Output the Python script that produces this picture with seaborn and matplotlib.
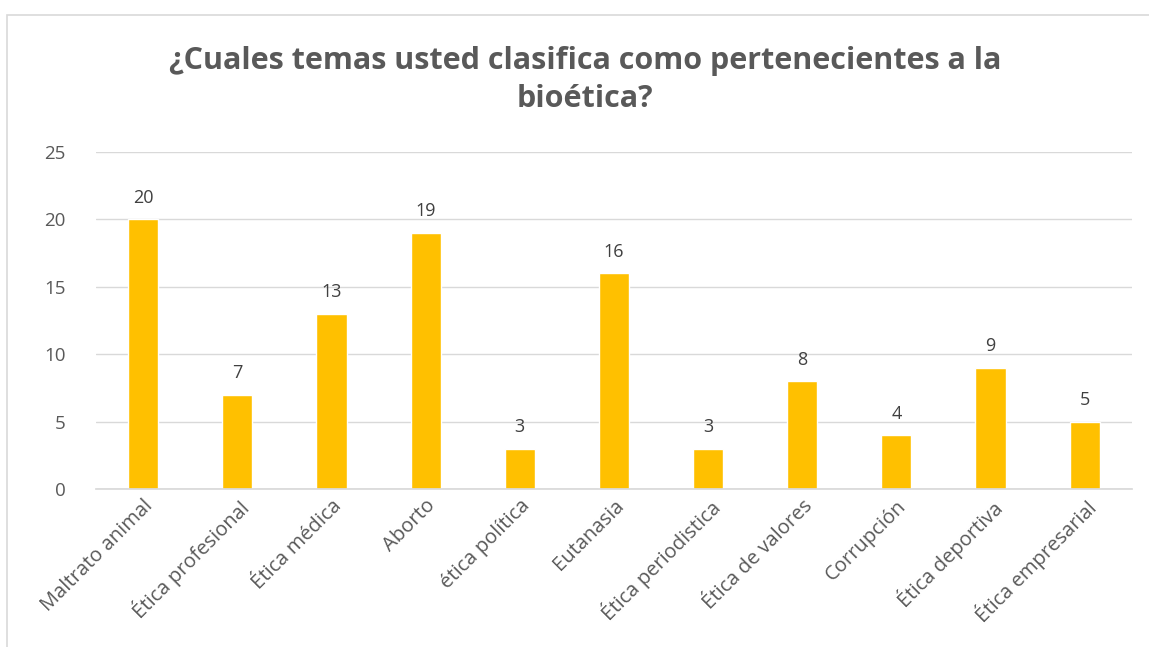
import matplotlib
matplotlib.use("Agg")
import matplotlib.pyplot as plt
import seaborn as sns
import pandas as pd
from matplotlib.patches import Rectangle

temas = [
    "Maltrato animal", "Ética profesional", "Ética médica", "Aborto",
    "ética política", "Eutanasia", "Ética periodistica", "Ética de valores",
    "Corrupción", "Ética deportiva", "Ética empresarial",
]
respuestas = [20, 7, 13, 19, 3, 16, 3, 8, 4, 9, 5]
y_ticks = [0, 5, 10, 15, 20, 25]

titulo = "¿Cuales temas usted clasifica como pertenecientes a la\nbioética?"

sns.set_theme(style="white")
plt.rcParams["font.family"] = ["Open Sans", "DejaVu Sans"]

df = pd.DataFrame({"tema": temas, "n": respuestas})

fig = plt.figure(figsize=(11.49, 6.47), dpi=100)
ax = fig.add_axes([0.0836, 0.2442, 0.9014, 0.5208])

sns.barplot(data=df, x="tema", y="n", color="#FFC000", saturation=1,
            width=0.32, ax=ax)

ax.set_ylim(0, 25)
ax.set_xlim(-0.5, len(temas) - 0.5)
ax.set_yticks(y_ticks)
ax.yaxis.grid(True, color="#d9d9d9", linewidth=1)
ax.set_axisbelow(True)
for s in ["top", "right", "left"]:
    ax.spines[s].set_visible(False)
ax.spines["bottom"].set_color("#d9d9d9")
ax.set_xlabel("")
ax.set_ylabel("")
ax.tick_params(axis="y", colors="#595959", labelsize=13.5, length=0, pad=22)
ax.tick_params(axis="x", colors="#595959", labelsize=14.5, length=0, pad=5)
plt.setp(ax.get_xticklabels(), rotation=45, ha="right", rotation_mode="anchor")

for c in ax.containers:
    ax.bar_label(c, padding=9, color="#404040", fontsize=13)

fig.text(0.509, 0.876, titulo, ha="center", va="center", fontsize=22,
         fontweight="bold", color="#595959", linespacing=1.35)

# marco del gráfico
fig.patches.append(Rectangle((7 / 1149, -0.1), 1.2, 1 - 15 / 647 + 0.1,
                             transform=fig.transFigure, fill=False,
                             edgecolor="#d9d9d9", linewidth=1.2))

fig.savefig("out.png", dpi=100)
